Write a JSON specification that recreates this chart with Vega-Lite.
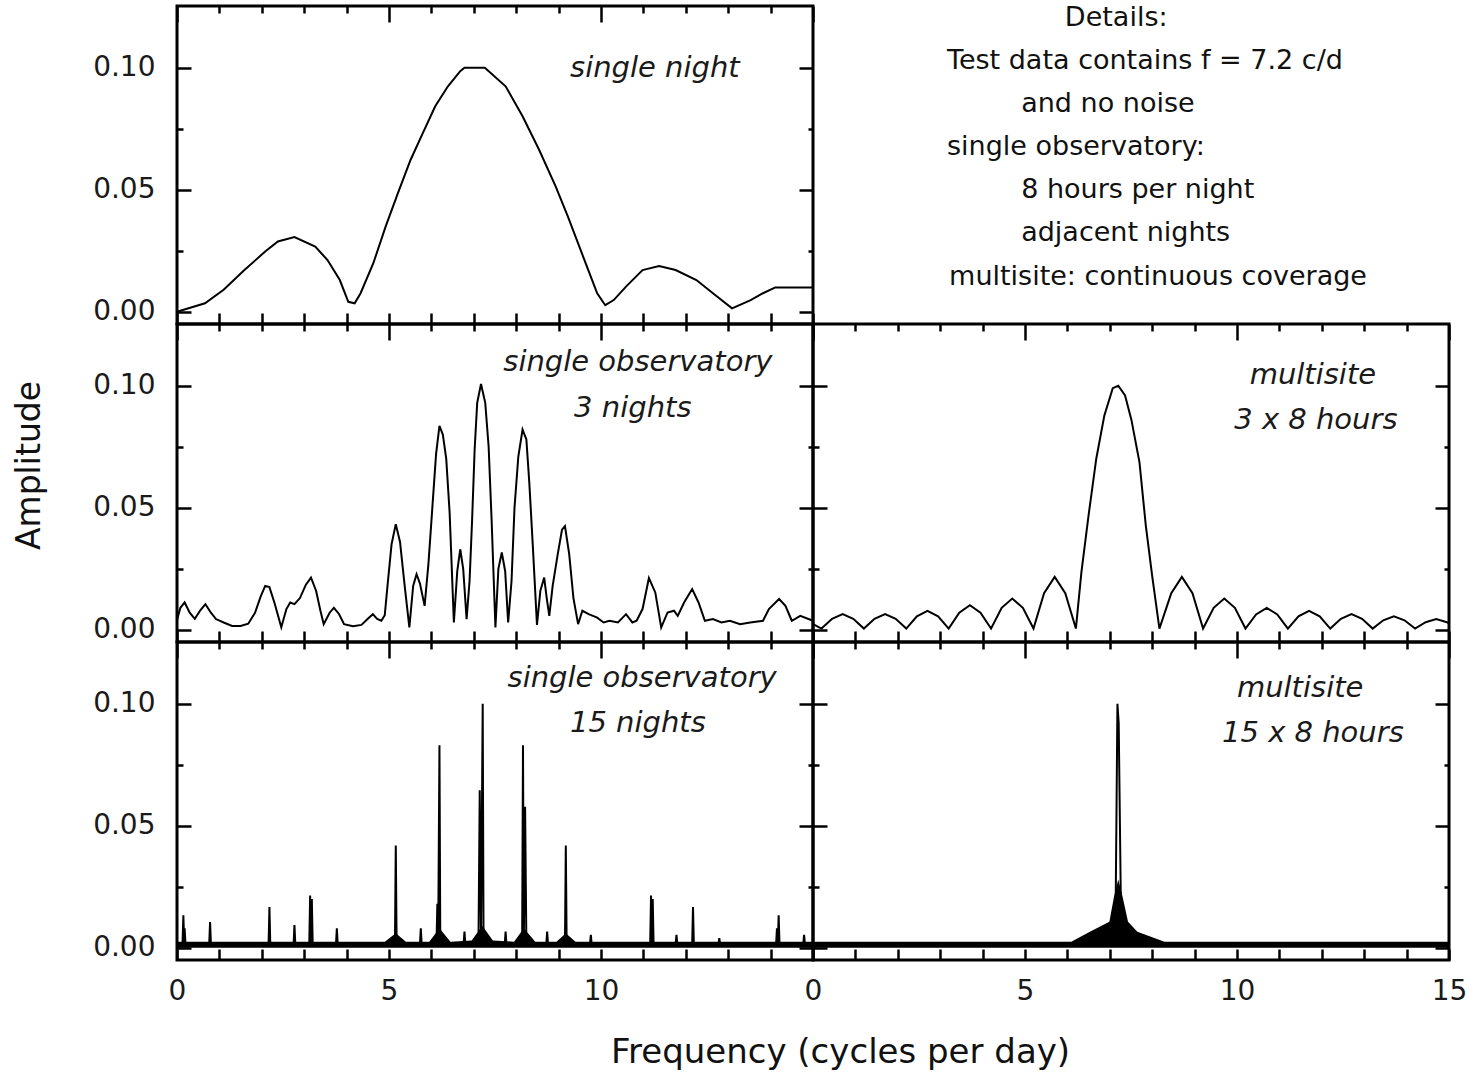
{
  "$schema": "https://vega.github.io/schema/vega-lite/v6.json",
  "background": "white",
  "padding": {"left": 11, "top": 3, "right": 15, "bottom": 5},
  "bounds": "flush",
  "columns": 2,
  "spacing": 0,
  "config": {
    "view": {"stroke": "black", "strokeWidth": 3},
    "axis": {"domain": false, "grid": false, "tickColor": "black", "tickWidth": 2.5, "labelFont": "DejaVu Sans", "labelFontSize": 28, "labelColor": "#1a1a1a", "labelOverlap": false, "labelFlush": false, "titleFont": "DejaVu Sans", "titleFontWeight": "normal", "titleColor": "#111111"}
  },
  "datasets": {
    "night1": [
      {"f":0.0,"a":0.0},{"f":0.66,"a":0.0035},{"f":1.1,"a":0.009},{"f":1.59,"a":0.0171},{"f":2.08,"a":0.0247},{"f":2.38,"a":0.0288},{"f":2.77,"a":0.0306},{"f":3.26,"a":0.0267},{"f":3.55,"a":0.0212},{"f":3.84,"a":0.013},{"f":4.04,"a":0.0041},{"f":4.19,"a":0.0035},{"f":4.33,"a":0.0076},{"f":4.63,"a":0.0199},{"f":4.92,"a":0.0349},{"f":5.21,"a":0.0486},{"f":5.51,"a":0.0623},{"f":5.8,"a":0.0733},{"f":6.09,"a":0.0842},{"f":6.39,"a":0.0924},{"f":6.68,"a":0.0986},{"f":6.78,"a":0.1},{"f":7.26,"a":0.1},{"f":7.75,"a":0.0924},{"f":8.15,"a":0.0801},{"f":8.54,"a":0.0664},{"f":8.93,"a":0.0514},{"f":9.22,"a":0.039},{"f":9.61,"a":0.0212},{"f":9.91,"a":0.0076},{"f":10.1,"a":0.0027},{"f":10.3,"a":0.0048},{"f":10.59,"a":0.0103},{"f":10.98,"a":0.0171},{"f":11.37,"a":0.0188},{"f":11.76,"a":0.0171},{"f":12.25,"a":0.013},{"f":12.64,"a":0.0076},{"f":13.09,"a":0.0014},{"f":13.53,"a":0.0048},{"f":13.82,"a":0.0076},{"f":14.11,"a":0.01},{"f":15.0,"a":0.01}
    ],
    "obs3": [
      {"f":0.0,"a":0.004},{"f":0.08,"a":0.009},{"f":0.18,"a":0.0112},{"f":0.3,"a":0.007},{"f":0.42,"a":0.0045},{"f":0.55,"a":0.008},{"f":0.67,"a":0.0105},{"f":0.8,"a":0.007},{"f":0.92,"a":0.0044},{"f":1.1,"a":0.003},{"f":1.3,"a":0.0016},{"f":1.5,"a":0.0016},{"f":1.68,"a":0.0025},{"f":1.84,"a":0.007},{"f":1.97,"a":0.0135},{"f":2.08,"a":0.018},{"f":2.18,"a":0.0175},{"f":2.3,"a":0.011},{"f":2.46,"a":0.001},{"f":2.58,"a":0.0085},{"f":2.67,"a":0.0112},{"f":2.77,"a":0.0105},{"f":2.9,"a":0.013},{"f":3.04,"a":0.0185},{"f":3.16,"a":0.0214},{"f":3.28,"a":0.016},{"f":3.38,"a":0.008},{"f":3.46,"a":0.0023},{"f":3.6,"a":0.007},{"f":3.7,"a":0.009},{"f":3.82,"a":0.0065},{"f":3.94,"a":0.0023},{"f":4.15,"a":0.0015},{"f":4.35,"a":0.002},{"f":4.5,"a":0.0045},{"f":4.62,"a":0.0064},{"f":4.72,"a":0.0045},{"f":4.82,"a":0.0037},{"f":4.9,"a":0.006},{"f":4.97,"a":0.019},{"f":5.06,"a":0.035},{"f":5.16,"a":0.0433},{"f":5.26,"a":0.036},{"f":5.37,"a":0.018},{"f":5.48,"a":0.001},{"f":5.57,"a":0.018},{"f":5.65,"a":0.0228},{"f":5.73,"a":0.019},{"f":5.84,"a":0.0098},{"f":5.93,"a":0.027},{"f":6.03,"a":0.052},{"f":6.11,"a":0.072},{"f":6.19,"a":0.0836},{"f":6.27,"a":0.08},{"f":6.35,"a":0.07},{"f":6.43,"a":0.048},{"f":6.53,"a":0.003},{"f":6.61,"a":0.024},{"f":6.68,"a":0.033},{"f":6.75,"a":0.025},{"f":6.83,"a":0.0044},{"f":6.9,"a":0.02},{"f":6.96,"a":0.045},{"f":7.02,"a":0.074},{"f":7.08,"a":0.093},{"f":7.17,"a":0.1007},{"f":7.27,"a":0.093},{"f":7.35,"a":0.075},{"f":7.42,"a":0.045},{"f":7.51,"a":0.001},{"f":7.58,"a":0.025},{"f":7.66,"a":0.0317},{"f":7.74,"a":0.024},{"f":7.81,"a":0.003},{"f":7.89,"a":0.02},{"f":7.96,"a":0.05},{"f":8.05,"a":0.071},{"f":8.15,"a":0.082},{"f":8.24,"a":0.078},{"f":8.31,"a":0.06},{"f":8.39,"a":0.035},{"f":8.49,"a":0.002},{"f":8.57,"a":0.016},{"f":8.66,"a":0.0214},{"f":8.72,"a":0.013},{"f":8.78,"a":0.0057},{"f":8.86,"a":0.018},{"f":8.98,"a":0.031},{"f":9.08,"a":0.041},{"f":9.15,"a":0.0425},{"f":9.25,"a":0.031},{"f":9.35,"a":0.013},{"f":9.46,"a":0.0023},{"f":9.56,"a":0.0078},{"f":9.71,"a":0.0064},{"f":9.91,"a":0.005},{"f":10.06,"a":0.003},{"f":10.2,"a":0.0037},{"f":10.4,"a":0.003},{"f":10.59,"a":0.0064},{"f":10.74,"a":0.003},{"f":10.84,"a":0.0037},{"f":10.98,"a":0.0085},{"f":11.13,"a":0.0212},{"f":11.28,"a":0.0153},{"f":11.42,"a":0.001},{"f":11.57,"a":0.0071},{"f":11.72,"a":0.0078},{"f":11.81,"a":0.0057},{"f":11.96,"a":0.0112},{"f":12.15,"a":0.0167},{"f":12.3,"a":0.0112},{"f":12.45,"a":0.0037},{"f":12.64,"a":0.0044},{"f":12.84,"a":0.003},{"f":13.04,"a":0.0037},{"f":13.28,"a":0.0023},{"f":13.52,"a":0.003},{"f":13.82,"a":0.0037},{"f":13.96,"a":0.0085},{"f":14.2,"a":0.0126},{"f":14.35,"a":0.0098},{"f":14.5,"a":0.0037},{"f":14.7,"a":0.0057},{"f":15.0,"a":0.0037}
    ],
    "multi3": [
      {"f":0.0,"a":0.0023},{"f":0.2,"a":0.0005},{"f":0.45,"a":0.0045},{"f":0.7,"a":0.0064},{"f":0.95,"a":0.0045},{"f":1.2,"a":0.0005},{"f":1.45,"a":0.0045},{"f":1.7,"a":0.0064},{"f":1.95,"a":0.0045},{"f":2.2,"a":0.0005},{"f":2.45,"a":0.0055},{"f":2.7,"a":0.0078},{"f":2.95,"a":0.0055},{"f":3.2,"a":0.0005},{"f":3.45,"a":0.007},{"f":3.7,"a":0.0101},{"f":3.95,"a":0.007},{"f":4.2,"a":0.0005},{"f":4.45,"a":0.009},{"f":4.7,"a":0.0128},{"f":4.95,"a":0.009},{"f":5.2,"a":0.0005},{"f":5.45,"a":0.015},{"f":5.7,"a":0.0217},{"f":5.95,"a":0.015},{"f":6.2,"a":0.0005},{"f":6.33,"a":0.0235},{"f":6.5,"a":0.047},{"f":6.68,"a":0.07},{"f":6.87,"a":0.0877},{"f":7.07,"a":0.099},{"f":7.2,"a":0.1},{"f":7.36,"a":0.096},{"f":7.51,"a":0.086},{"f":7.7,"a":0.0686},{"f":7.85,"a":0.0426},{"f":8.0,"a":0.022},{"f":8.17,"a":0.0005},{"f":8.45,"a":0.015},{"f":8.7,"a":0.0217},{"f":8.95,"a":0.015},{"f":9.2,"a":0.0005},{"f":9.45,"a":0.009},{"f":9.7,"a":0.0128},{"f":9.95,"a":0.009},{"f":10.2,"a":0.0005},{"f":10.45,"a":0.0063},{"f":10.7,"a":0.009},{"f":10.95,"a":0.0063},{"f":11.2,"a":0.0005},{"f":11.45,"a":0.0055},{"f":11.7,"a":0.0078},{"f":11.95,"a":0.0055},{"f":12.2,"a":0.0005},{"f":12.45,"a":0.0045},{"f":12.7,"a":0.0064},{"f":12.95,"a":0.0045},{"f":13.2,"a":0.0005},{"f":13.45,"a":0.0039},{"f":13.7,"a":0.0055},{"f":13.95,"a":0.0039},{"f":14.2,"a":0.0005},{"f":14.45,"a":0.0031},{"f":14.7,"a":0.0044},{"f":14.95,"a":0.0031},{"f":15.0,"a":0.0028}
    ],
    "obs15": [
      {"f":0.0,"a":0.0015},{"f":0.13,"a":0.0015},{"f":0.15,"a":0.0133},{"f":0.17,"a":0.002},{"f":0.18,"a":0.008},{"f":0.2,"a":0.0015},
      {"f":0.76,"a":0.0015},{"f":0.78,"a":0.0106},{"f":0.8,"a":0.0015},
      {"f":2.16,"a":0.0015},{"f":2.18,"a":0.0167},{"f":2.2,"a":0.0015},
      {"f":2.75,"a":0.0015},{"f":2.77,"a":0.0093},{"f":2.79,"a":0.0015},
      {"f":3.12,"a":0.0015},{"f":3.14,"a":0.0214},{"f":3.16,"a":0.002},{"f":3.18,"a":0.02},{"f":3.2,"a":0.0015},
      {"f":3.75,"a":0.0015},{"f":3.77,"a":0.008},{"f":3.79,"a":0.0015},
      {"f":5.14,"a":0.0015},{"f":5.16,"a":0.0419},{"f":5.18,"a":0.0015},
      {"f":5.73,"a":0.0015},{"f":5.75,"a":0.008},{"f":5.77,"a":0.0015},
      {"f":6.12,"a":0.0015},{"f":6.14,"a":0.018},{"f":6.16,"a":0.003},{"f":6.19,"a":0.083},{"f":6.21,"a":0.0015},
      {"f":6.76,"a":0.0015},{"f":6.78,"a":0.0066},{"f":6.8,"a":0.0015},
      {"f":7.11,"a":0.0015},{"f":7.14,"a":0.0646},{"f":7.17,"a":0.004},{"f":7.21,"a":0.1},{"f":7.23,"a":0.0015},
      {"f":7.73,"a":0.0015},{"f":7.75,"a":0.0066},{"f":7.77,"a":0.0015},
      {"f":8.14,"a":0.0015},{"f":8.16,"a":0.083},{"f":8.18,"a":0.004},{"f":8.21,"a":0.0578},{"f":8.24,"a":0.0015},
      {"f":8.71,"a":0.0015},{"f":8.73,"a":0.0066},{"f":8.75,"a":0.0015},
      {"f":9.15,"a":0.0015},{"f":9.17,"a":0.0419},{"f":9.19,"a":0.0015},
      {"f":9.74,"a":0.0015},{"f":9.76,"a":0.0053},{"f":9.78,"a":0.0015},
      {"f":11.16,"a":0.0015},{"f":11.18,"a":0.0214},{"f":11.2,"a":0.002},{"f":11.22,"a":0.02},{"f":11.24,"a":0.0015},
      {"f":11.76,"a":0.0015},{"f":11.78,"a":0.0053},{"f":11.8,"a":0.0015},
      {"f":12.15,"a":0.0015},{"f":12.17,"a":0.0167},{"f":12.19,"a":0.0015},
      {"f":12.77,"a":0.0015},{"f":12.79,"a":0.004},{"f":12.81,"a":0.0015},
      {"f":14.13,"a":0.0015},{"f":14.15,"a":0.008},{"f":14.17,"a":0.002},{"f":14.19,"a":0.0133},{"f":14.21,"a":0.0015},
      {"f":14.77,"a":0.0015},{"f":14.79,"a":0.0053},{"f":14.81,"a":0.0015},
      {"f":15.0,"a":0.0015}
    ],
    "obs15band": [
      {"f":0.0,"a":0.0025},{"f":4.9,"a":0.0025},{"f":5.16,"a":0.006},{"f":5.4,"a":0.0025},{"f":5.95,"a":0.0025},{"f":6.19,"a":0.008},{"f":6.45,"a":0.0025},{"f":6.95,"a":0.003},{"f":7.2,"a":0.009},{"f":7.45,"a":0.003},{"f":7.95,"a":0.0025},{"f":8.18,"a":0.008},{"f":8.45,"a":0.0025},{"f":8.95,"a":0.0025},{"f":9.17,"a":0.006},{"f":9.4,"a":0.0025},{"f":15.0,"a":0.0025}
    ],
    "multi15": [
      {"f":0.0,"a":0.001},{"f":7.0,"a":0.001},{"f":7.14,"a":0.02},{"f":7.18,"a":0.1},{"f":7.21,"a":0.092},{"f":7.26,"a":0.02},{"f":7.4,"a":0.001},{"f":15.0,"a":0.001}
    ],
    "multi15band": [
      {"f":0.0,"a":0.0025},{"f":6.09,"a":0.0025},{"f":6.53,"a":0.0066},{"f":6.99,"a":0.0107},{"f":7.1,"a":0.021},{"f":7.2,"a":0.028},{"f":7.3,"a":0.021},{"f":7.43,"a":0.0107},{"f":7.65,"a":0.0066},{"f":8.29,"a":0.0025},{"f":15.0,"a":0.0025}
    ]
  },
  "concat": [
    {
      "width": 636, "height": 318,
      "data": {"name": "night1"},
      "layer": [
        {"mark": {"type": "line", "color": "black", "strokeWidth": 2},
         "encoding": {
           "x": {"field": "f", "type": "quantitative", "scale": {"domain": [0, 15], "nice": false, "zero": false}, "axis": {"orient": "bottom", "values": [0,1,2,3,4,5,6,7,8,9,10,11,12,13,14,15], "tickSize": -11, "labels": false, "title": null}},
           "y": {"field": "a", "type": "quantitative", "scale": {"domain": [-0.005, 0.1253], "nice": false, "zero": false}, "axis": {"orient": "left", "values": [0, 0.05, 0.1], "tickSize": -14, "format": ".2f", "labelPadding": 36, "title": null}}}},
        {"mark": {"type": "line", "opacity": 0},
         "encoding": {
           "x": {"field": "f", "type": "quantitative", "axis": {"orient": "top", "values": [0,5,10,15], "tickSize": -16, "labels": false, "title": null}},
           "y": {"field": "a", "type": "quantitative", "axis": {"orient": "right", "values": [0, 0.05, 0.1], "tickSize": -14, "labels": false, "title": null}}}},
        {"mark": {"type": "line", "opacity": 0},
         "encoding": {
           "x": {"field": "f", "type": "quantitative", "axis": {"orient": "top", "values": [1,2,3,4,6,7,8,9,11,12,13,14], "tickSize": -7, "labels": false, "title": null}},
           "y": {"field": "a", "type": "quantitative", "axis": {"orient": "right", "values": [0.025, 0.075], "tickSize": -5, "labels": false, "title": null}}}},
        {"mark": {"type": "line", "opacity": 0},
         "encoding": {
           "x": {"field": "f", "type": "quantitative", "axis": null},
           "y": {"field": "a", "type": "quantitative", "axis": {"orient": "left", "values": [0.025, 0.075], "tickSize": -6, "labels": false, "title": null}}}},
        {"data": {"values": [{"f": 11.27, "a": 0.1, "t": "single night"}]},
         "mark": {"type": "text", "font": "DejaVu Sans", "fontStyle": "italic", "fontSize": 29, "color": "#1a1a1a", "align": "center", "baseline": "middle"},
         "encoding": {"x": {"field": "f", "type": "quantitative", "axis": null}, "y": {"field": "a", "type": "quantitative", "axis": null}, "text": {"field": "t"}}}
      ],
      "resolve": {"axis": {"x": "independent", "y": "independent"}}
    },
    {
      "width": 636, "height": 318,
      "view": {"stroke": null},
      "data": {"values": [
        {"f": 5.94, "line": 0, "t": "Details:"},
        {"f": 3.16, "line": 1, "t": "Test data contains f = 7.2 c/d"},
        {"f": 4.91, "line": 2, "t": "and no noise"},
        {"f": 3.16, "line": 3, "t": "single observatory:"},
        {"f": 4.91, "line": 4, "t": "8 hours per night"},
        {"f": 4.91, "line": 5, "t": "adjacent nights"},
        {"f": 3.21, "line": 6, "t": "multisite: continuous coverage"}
      ]},
      "mark": {"type": "text", "font": "DejaVu Sans", "fontSize": 27, "color": "#111111", "align": "left", "baseline": "middle"},
      "encoding": {
        "x": {"field": "f", "type": "quantitative", "scale": {"domain": [0, 15], "nice": false, "zero": false}, "axis": null},
        "y": {"field": "line", "type": "quantitative", "scale": {"domain": [-0.278, 7.1], "reverse": true, "nice": false, "zero": false}, "axis": null},
        "text": {"field": "t"}
      }
    },
    {
      "width": 636, "height": 318,
      "data": {"name": "obs3"},
      "layer": [
        {"mark": {"type": "line", "color": "black", "strokeWidth": 2},
         "encoding": {
           "x": {"field": "f", "type": "quantitative", "scale": {"domain": [0, 15], "nice": false, "zero": false}, "axis": {"orient": "bottom", "values": [0,1,2,3,4,5,6,7,8,9,10,11,12,13,14,15], "tickSize": -11, "labels": false, "title": null}},
           "y": {"field": "a", "type": "quantitative", "scale": {"domain": [-0.005, 0.1253], "nice": false, "zero": false}, "axis": {"orient": "left", "values": [0, 0.05, 0.1], "tickSize": -14, "format": ".2f", "labelPadding": 36, "title": "Amplitude", "titleFontSize": 33, "titleX": -138, "titleY": 141, "titleAngle": 270, "titleBaseline": "alphabetic", "titleAlign": "center"}}}},
        {"mark": {"type": "line", "opacity": 0},
         "encoding": {
           "x": {"field": "f", "type": "quantitative", "axis": {"orient": "top", "values": [0,5,10,15], "tickSize": -16, "labels": false, "title": null}},
           "y": {"field": "a", "type": "quantitative", "axis": {"orient": "right", "values": [0, 0.05, 0.1], "tickSize": -14, "labels": false, "title": null}}}},
        {"mark": {"type": "line", "opacity": 0},
         "encoding": {
           "x": {"field": "f", "type": "quantitative", "axis": {"orient": "top", "values": [1,2,3,4,6,7,8,9,11,12,13,14], "tickSize": -7, "labels": false, "title": null}},
           "y": {"field": "a", "type": "quantitative", "axis": {"orient": "right", "values": [0.025, 0.075], "tickSize": -5, "labels": false, "title": null}}}},
        {"mark": {"type": "line", "opacity": 0},
         "encoding": {
           "x": {"field": "f", "type": "quantitative", "axis": null},
           "y": {"field": "a", "type": "quantitative", "axis": {"orient": "left", "values": [0.025, 0.075], "tickSize": -6, "labels": false, "title": null}}}},
        {"data": {"values": [{"f": 10.87, "a": 0.1099, "t": "single observatory"}, {"f": 10.75, "a": 0.0909, "t": "3 nights"}]},
         "mark": {"type": "text", "font": "DejaVu Sans", "fontStyle": "italic", "fontSize": 29, "color": "#1a1a1a", "align": "center", "baseline": "middle"},
         "encoding": {"x": {"field": "f", "type": "quantitative", "axis": null}, "y": {"field": "a", "type": "quantitative", "axis": null}, "text": {"field": "t"}}}
      ],
      "resolve": {"axis": {"x": "independent", "y": "independent"}}
    },
    {
      "width": 636, "height": 318,
      "data": {"name": "multi3"},
      "layer": [
        {"mark": {"type": "line", "color": "black", "strokeWidth": 2},
         "encoding": {
           "x": {"field": "f", "type": "quantitative", "scale": {"domain": [0, 15], "nice": false, "zero": false}, "axis": {"orient": "bottom", "values": [0,1,2,3,4,5,6,7,8,9,10,11,12,13,14,15], "tickSize": -11, "labels": false, "title": null}},
           "y": {"field": "a", "type": "quantitative", "scale": {"domain": [-0.005, 0.1253], "nice": false, "zero": false}, "axis": {"orient": "left", "values": [0, 0.05, 0.1], "tickSize": -14, "labels": false, "title": null}}}},
        {"mark": {"type": "line", "opacity": 0},
         "encoding": {
           "x": {"field": "f", "type": "quantitative", "axis": {"orient": "top", "values": [0,5,10,15], "tickSize": -16, "labels": false, "title": null}},
           "y": {"field": "a", "type": "quantitative", "axis": {"orient": "right", "values": [0, 0.05, 0.1], "tickSize": -14, "labels": false, "title": null}}}},
        {"mark": {"type": "line", "opacity": 0},
         "encoding": {
           "x": {"field": "f", "type": "quantitative", "axis": {"orient": "top", "values": [1,2,3,4,6,7,8,9,11,12,13,14], "tickSize": -7, "labels": false, "title": null}},
           "y": {"field": "a", "type": "quantitative", "axis": {"orient": "right", "values": [0.025, 0.075], "tickSize": -5, "labels": false, "title": null}}}},
        {"mark": {"type": "line", "opacity": 0},
         "encoding": {
           "x": {"field": "f", "type": "quantitative", "axis": null},
           "y": {"field": "a", "type": "quantitative", "axis": {"orient": "left", "values": [0.025, 0.075], "tickSize": -6, "labels": false, "title": null}}}},
        {"data": {"values": [{"f": 11.79, "a": 0.1045, "t": "multisite"}, {"f": 11.86, "a": 0.086, "t": "3 x 8 hours"}]},
         "mark": {"type": "text", "font": "DejaVu Sans", "fontStyle": "italic", "fontSize": 29, "color": "#1a1a1a", "align": "center", "baseline": "middle"},
         "encoding": {"x": {"field": "f", "type": "quantitative", "axis": null}, "y": {"field": "a", "type": "quantitative", "axis": null}, "text": {"field": "t"}}}
      ],
      "resolve": {"axis": {"x": "independent", "y": "independent"}}
    },
    {
      "width": 636, "height": 318,
      "data": {"name": "obs15"},
      "layer": [
        {"data": {"name": "obs15band"},
         "mark": {"type": "area", "color": "black"},
         "encoding": {
           "x": {"field": "f", "type": "quantitative", "scale": {"domain": [0, 15], "nice": false, "zero": false}, "axis": null},
           "y": {"field": "a", "type": "quantitative", "scale": {"domain": [-0.005, 0.1253], "nice": false, "zero": false}, "axis": null},
           "y2": {"datum": 0}}},
        {"mark": {"type": "line", "color": "black", "strokeWidth": 2},
         "encoding": {
           "x": {"field": "f", "type": "quantitative", "axis": {"orient": "bottom", "values": [0,1,2,3,4,5,6,7,8,9,10,11,12,13,14,15], "tickSize": -11, "format": "d", "labelPadding": 28, "labelExpr": "datum.value % 5 == 0 && datum.value < 15 ? datum.label : ''", "title": "Frequency (cycles per day)", "titleFontSize": 34, "titleX": 663, "titleY": 102, "titleBaseline": "alphabetic", "titleAlign": "center"}},
           "y": {"field": "a", "type": "quantitative", "axis": {"orient": "left", "values": [0, 0.05, 0.1], "tickSize": -14, "format": ".2f", "labelPadding": 36, "title": null}}}},
        {"mark": {"type": "line", "opacity": 0},
         "encoding": {
           "x": {"field": "f", "type": "quantitative", "axis": {"orient": "top", "values": [0,5,10,15], "tickSize": -16, "labels": false, "title": null}},
           "y": {"field": "a", "type": "quantitative", "axis": {"orient": "right", "values": [0, 0.05, 0.1], "tickSize": -14, "labels": false, "title": null}}}},
        {"mark": {"type": "line", "opacity": 0},
         "encoding": {
           "x": {"field": "f", "type": "quantitative", "axis": {"orient": "top", "values": [1,2,3,4,6,7,8,9,11,12,13,14], "tickSize": -7, "labels": false, "title": null}},
           "y": {"field": "a", "type": "quantitative", "axis": {"orient": "right", "values": [0.025, 0.075], "tickSize": -5, "labels": false, "title": null}}}},
        {"mark": {"type": "line", "opacity": 0},
         "encoding": {
           "x": {"field": "f", "type": "quantitative", "axis": null},
           "y": {"field": "a", "type": "quantitative", "axis": {"orient": "left", "values": [0.025, 0.075], "tickSize": -6, "labels": false, "title": null}}}},
        {"data": {"values": [{"f": 10.97, "a": 0.1107, "t": "single observatory"}, {"f": 10.87, "a": 0.0922, "t": "15 nights"}]},
         "mark": {"type": "text", "font": "DejaVu Sans", "fontStyle": "italic", "fontSize": 29, "color": "#1a1a1a", "align": "center", "baseline": "middle"},
         "encoding": {"x": {"field": "f", "type": "quantitative", "axis": null}, "y": {"field": "a", "type": "quantitative", "axis": null}, "text": {"field": "t"}}}
      ],
      "resolve": {"axis": {"x": "independent", "y": "independent"}}
    },
    {
      "width": 636, "height": 318,
      "data": {"name": "multi15"},
      "layer": [
        {"data": {"name": "multi15band"},
         "mark": {"type": "area", "color": "black"},
         "encoding": {
           "x": {"field": "f", "type": "quantitative", "scale": {"domain": [0, 15], "nice": false, "zero": false}, "axis": null},
           "y": {"field": "a", "type": "quantitative", "scale": {"domain": [-0.005, 0.1253], "nice": false, "zero": false}, "axis": null},
           "y2": {"datum": 0}}},
        {"mark": {"type": "line", "color": "black", "strokeWidth": 2},
         "encoding": {
           "x": {"field": "f", "type": "quantitative", "axis": {"orient": "bottom", "values": [0,1,2,3,4,5,6,7,8,9,10,11,12,13,14,15], "tickSize": -11, "format": "d", "labelPadding": 28, "labelExpr": "datum.value % 5 == 0 ? datum.label : ''", "title": null}},
           "y": {"field": "a", "type": "quantitative", "axis": {"orient": "left", "values": [0, 0.05, 0.1], "tickSize": -14, "labels": false, "title": null}}}},
        {"mark": {"type": "line", "opacity": 0},
         "encoding": {
           "x": {"field": "f", "type": "quantitative", "axis": {"orient": "top", "values": [0,5,10,15], "tickSize": -16, "labels": false, "title": null}},
           "y": {"field": "a", "type": "quantitative", "axis": {"orient": "right", "values": [0, 0.05, 0.1], "tickSize": -14, "labels": false, "title": null}}}},
        {"mark": {"type": "line", "opacity": 0},
         "encoding": {
           "x": {"field": "f", "type": "quantitative", "axis": {"orient": "top", "values": [1,2,3,4,6,7,8,9,11,12,13,14], "tickSize": -7, "labels": false, "title": null}},
           "y": {"field": "a", "type": "quantitative", "axis": {"orient": "right", "values": [0.025, 0.075], "tickSize": -5, "labels": false, "title": null}}}},
        {"mark": {"type": "line", "opacity": 0},
         "encoding": {
           "x": {"field": "f", "type": "quantitative", "axis": null},
           "y": {"field": "a", "type": "quantitative", "axis": {"orient": "left", "values": [0.025, 0.075], "tickSize": -6, "labels": false, "title": null}}}},
        {"data": {"values": [{"f": 11.49, "a": 0.1066, "t": "multisite"}, {"f": 11.79, "a": 0.0881, "t": "15 x 8 hours"}]},
         "mark": {"type": "text", "font": "DejaVu Sans", "fontStyle": "italic", "fontSize": 29, "color": "#1a1a1a", "align": "center", "baseline": "middle"},
         "encoding": {"x": {"field": "f", "type": "quantitative", "axis": null}, "y": {"field": "a", "type": "quantitative", "axis": null}, "text": {"field": "t"}}}
      ],
      "resolve": {"axis": {"x": "independent", "y": "independent"}}
    }
  ]
}
